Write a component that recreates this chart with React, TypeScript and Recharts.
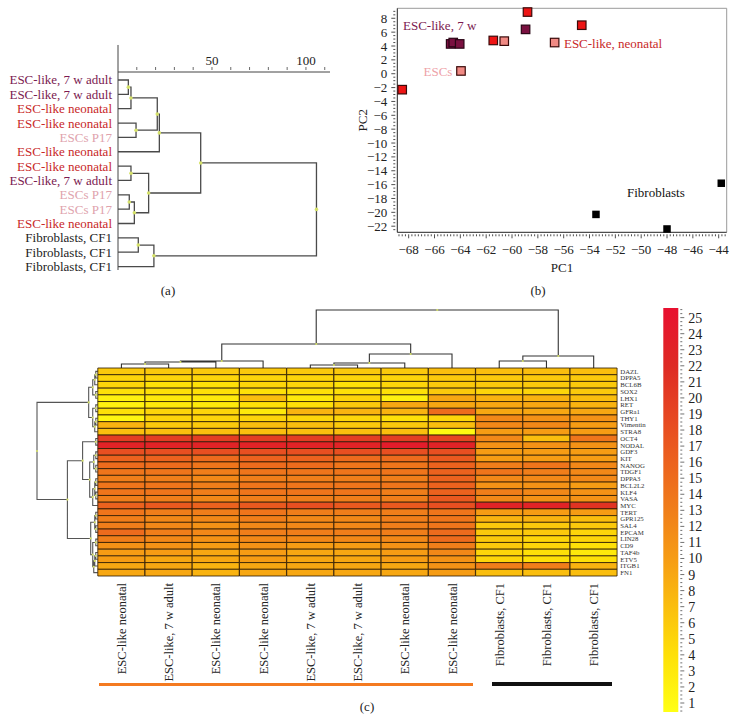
import React from 'react';
import {
  LineChart, Line, XAxis, YAxis, ScatterChart, Scatter, BarChart, Bar, Cell, ReferenceLine,
} from 'recharts';

const FONT = "'Liberation Serif', 'DejaVu Serif', serif";

// ---------- (a) sample clustering ----------
const leafNames = [
  'ESC-like, 7 w adult', 'ESC-like, 7 w adult', 'ESC-like neonatal', 'ESC-like neonatal', 'ESCs P17',
  'ESC-like neonatal', 'ESC-like neonatal', 'ESC-like, 7 w adult', 'ESCs P17', 'ESCs P17',
  'ESC-like neonatal', 'Fibroblasts, CF1', 'Fibroblasts, CF1', 'Fibroblasts, CF1',
];
// [left, right, height]; merged nodes get the next free index after the leaves
const sampleMerges = [
  [0, 1, 5.5], [14, 2, 6.9], [3, 4, 9.6], [15, 16, 20.9], [17, 5, 22], [6, 7, 6.9], [8, 9, 6],
  [20, 10, 8.7], [19, 21, 16.3], [18, 22, 44], [11, 12, 10.8], [24, 13, 19.1], [23, 25, 105.6],
];
const distTicks = [10, 20, 30, 40, 50, 60, 70, 80, 90, 100, 110];
const distLabels = [50, 100];

// ---------- (b) PCA ----------
const pcaNeonatal = [{ x: -68.5, y: -2.3 }, { x: -61.45, y: 4.8 }, { x: -58.8, y: 8.9 }, { x: -54.6, y: 7.0 }];
const pcaEscs = [{ x: -63.95, y: 0.4 }, { x: -60.6, y: 4.7 }, { x: -56.7, y: 4.5 }];
const pcaAdult = [{ x: -64.75, y: 4.3 }, { x: -64.55, y: 4.5 }, { x: -64.05, y: 4.3 }, { x: -58.95, y: 6.4 }];
const pcaFibro = [{ x: -53.5, y: -20.3 }, { x: -48.0, y: -22.4 }, { x: -43.8, y: -15.8 }];
const pcaLabels = [
  { x: -68.44, y: 6.9, text: 'ESC-like, 7 w', color: '#7b1a50' },
  { x: -55.98, y: 4.43, text: 'ESC-like, neonatal', color: '#c82828' },
  { x: -66.85, y: 0.39, text: 'ESCs', color: '#eea2a8' },
  { x: -51.1, y: -17.1, text: 'Fibroblasts', color: '#111' },
];
const pcaXLabels = [-68, -66, -64, -62, -60, -58, -56, -54, -52, -50, -48, -46, -44];
const pcaYLabels = [8, 6, 4, 2, 0, -2, -4, -6, -8, -10, -12, -14, -16, -18, -20, -22];

// ---------- (c) heatmap ----------
const genes = [
  'DAZL', 'DPPA5', 'BCL6B', 'SOX2', 'LHX1', 'RET', 'GFRa1', 'THY1', 'Vimentin', 'STRA8', 'OCT4',
  'NODAL', 'GDF3', 'KIT', 'NANOG', 'TDGF1', 'DPPA3', 'BCL2L2', 'KLF4', 'VASA', 'MYC', 'TERT',
  'GPR125', 'SAL4', 'EPCAM', 'LIN28', 'CD9', 'TAF4b', 'ETV5', 'ITGB1', 'FN1',
];
const sampleNames = [
  'ESC-like neonatal', 'ESC-like, 7 w adult', 'ESC-like neonatal', 'ESC-like neonatal',
  'ESC-like, 7 w adult', 'ESC-like, 7 w adult', 'ESC-like neonatal', 'ESC-like neonatal',
  'Fibroblasts, CF1', 'Fibroblasts, CF1', 'Fibroblasts, CF1',
];
// one row per gene, one value per sample
const heatRows = [
  [6, 6, 6, 6, 6, 6, 6, 7, 7, 7, 7],
  [5, 5, 5, 5, 5, 5, 5, 6, 6, 6, 6],
  [5, 4, 4, 5, 5, 4, 5, 6, 6, 6, 6],
  [4, 4, 4, 4, 4, 4, 4, 6, 5, 5, 6],
  [2, 3, 3, 7, 3, 5, 2, 9, 8, 8, 7],
  [2, 3, 3, 4, 4, 6, 9, 9, 9, 9, 8],
  [4, 5, 5, 3, 8, 8, 8, 15, 9, 9, 9],
  [1.5, 5, 5, 5, 5, 5, 4, 5, 12, 11, 11],
  [8, 6, 6, 7, 7, 6, 6, 7, 12, 12, 10],
  [7, 7, 7, 7, 7, 7, 7, 1, 10, 10, 10],
  [20, 20, 20, 20, 20, 20, 20, 19, 12, 7, 14],
  [23, 23, 23, 23, 23, 23, 24, 23, 11, 11, 11],
  [18, 18, 18, 18, 18, 18, 18, 18, 10, 10, 10],
  [16, 16, 15, 16, 16, 15, 15, 17, 10, 10, 10],
  [15, 15, 14, 15, 15, 14, 14, 16, 13, 14, 12],
  [14, 14, 13, 14, 14, 14, 14, 16, 14, 13, 12],
  [13, 13, 12, 13, 13, 13, 13, 16, 12, 12, 12],
  [14, 14, 13, 14, 14, 14, 14, 16, 11, 11, 10],
  [14, 14, 13, 14, 14, 14, 13, 16, 13, 12, 11],
  [13, 13, 12, 13, 13, 13, 13, 17, 12, 11, 11],
  [16, 17, 16, 17, 18, 17, 17, 18, 23, 23, 21],
  [14, 13, 13, 14, 13, 13, 13, 14, 10, 10, 10],
  [13, 12, 12, 13, 12, 12, 13, 14, 8, 8, 7],
  [13, 12, 11, 12, 12, 12, 13, 14, 6, 6, 6],
  [15, 13, 12, 13, 13, 13, 13, 15, 6, 6, 5],
  [13, 12, 11, 12, 12, 12, 12, 15, 6, 5, 5],
  [11, 11, 10, 11, 10, 10, 11, 13, 6, 5, 4],
  [10, 10, 9, 10, 9, 9, 10, 12, 5, 4, 3],
  [10, 9, 9, 10, 9, 9, 10, 11, 5, 4, 4],
  [9, 9, 8, 9, 9, 9, 9, 11, 13, 13, 8],
  [9, 9, 8, 9, 9, 9, 9, 10, 7, 7, 7],
];
const geneMerges = [
  [0, 1, 2], [31, 2, 3], [3, 4, 2], [32, 33, 5], [5, 6, 2], [7, 8, 2], [36, 9, 3], [35, 37, 5], [34, 38, 9],
  [10, 11, 2], [12, 13, 2], [14, 15, 2], [41, 42, 4], [16, 17, 2], [18, 19, 2], [44, 45, 3], [46, 20, 5],
  [43, 47, 8], [40, 48, 15], [21, 22, 2], [23, 24, 2], [50, 51, 3], [25, 26, 2], [27, 28, 2], [54, 29, 3],
  [55, 30, 4], [53, 56, 5], [52, 57, 7], [49, 58, 30], [39, 59, 60],
];
const sampleColMerges = [
  [0, 1, 4], [11, 2, 6], [12, 3, 7], [4, 5, 3], [14, 6, 5], [15, 7, 14], [13, 16, 24],
  [8, 9, 7], [18, 10, 12], [17, 19, 58],
];
const colorbarTicks = [1, 2, 3, 4, 5, 6, 7, 8, 9, 10, 11, 12, 13, 14, 15, 16, 17, 18, 19, 20, 21, 22, 23, 24, 25];
const groupBars = [
  { from: 0, to: 7, color: '#f47a20', inL: 1, inR: 3, h: 3 },
  { from: 8, to: 10, color: '#111', inL: 16, inR: 5, h: 4 },
];

const leafColor = (name: string) =>
  name.startsWith('ESC-like, 7') ? '#7b1a50' : name.startsWith('ESC-like') ? '#c82828'
    : name.startsWith('ESCs') ? '#e0a3ad' : '#222';

const colorStops: [number, number[]][] = [
  [0.44, [255, 255, 20]], [4, [254, 224, 8]], [7, [250, 190, 14]], [10, [246, 156, 20]],
  [13, [240, 126, 26]], [16, [236, 98, 30]], [19, [230, 70, 34]], [22, [222, 42, 36]], [25.6, [232, 16, 48]],
];
const rgb = (c: number[]) => `rgb(${c[0]},${c[1]},${c[2]})`;
function heatColor(v: number) {
  for (let i = 1; i < colorStops.length; i++) {
    const [v1, c1] = colorStops[i];
    const [v0, c0] = colorStops[i - 1];
    if (v <= v1 || i === colorStops.length - 1) {
      const t = Math.max(0, Math.min(1, (v - v0) / (v1 - v0)));
      return rgb(c0.map((a, k) => Math.round(a + (c1[k] - a) * t)));
    }
  }
  return '#fff';
}

function buildDendro(n: number, merges: number[][]) {
  const pos: number[] = [];
  const hgt: number[] = [];
  for (let i = 0; i < n; i++) { pos.push(i); hgt.push(0); }
  const pts: any[] = [];
  merges.forEach(([a, b, h]) => {
    const mid = (pos[a] + pos[b]) / 2;
    pts.push({ p: pos[a], h: hgt[a] }, { p: pos[a], h }, { p: mid, h, node: true },
      { p: pos[b], h }, { p: pos[b], h: hgt[b] }, { p: null, h: null });
    pos.push(mid); hgt.push(h);
  });
  return pts;
}

const stepTicks = (lo: number, hi: number, step: number) => {
  const out: number[] = [];
  for (let v = lo; v <= hi + 1e-9; v += step) out.push(Math.round(v * 100) / 100);
  return out;
};
const minus = (v: number) => (v < 0 ? `\u2212${-v}` : `${v}`);

const nodeDot = (r: number) => (props: any) =>
  props.payload && props.payload.node && props.cx != null
    ? <circle key={`n${props.index}`} cx={props.cx} cy={props.cy} r={r} fill="#d6e26a" />
    : <g key={`n${props.index}`} />;

// ---------- ticks ----------
const LeafTick = (props: any) => {
  const name = leafNames[props.payload.value];
  return (
    <text x={props.x} y={props.y} dy={4.5} textAnchor="end" fontSize={13} fill={leafColor(name)}>{name}</text>
  );
};
const DistTick = (props: any) => {
  const { x, y, payload } = props;
  return (
    <g>
      <line x1={x} x2={x} y1={y} y2={y - 3} stroke="#444" strokeWidth={0.8} />
      {distLabels.includes(payload.value) && (
        <text x={x} y={y - 5} textAnchor="middle" fontSize={13} fill="#222">{payload.value}</text>
      )}
    </g>
  );
};
const PcXTick = (props: any) => {
  const { x, y, payload } = props;
  const major = pcaXLabels.includes(payload.value);
  return (
    <g>
      <line x1={x} x2={x} y1={y} y2={y + (major ? 4 : 2)} stroke="#222" strokeWidth={0.8} />
      {major && <text x={x} y={y + 20} textAnchor="middle" fontSize={13} fill="#222">{minus(payload.value)}</text>}
    </g>
  );
};
const PcYTick = (props: any) => {
  const { x, y, payload } = props;
  const major = pcaYLabels.includes(payload.value);
  return (
    <g>
      <line x1={x} x2={x - (major ? 4 : 2)} y1={y} y2={y} stroke="#222" strokeWidth={0.8} />
      {major && <text x={x - 8} y={y} dy={4.5} textAnchor="end" fontSize={13} fill="#222">{minus(payload.value)}</text>}
    </g>
  );
};
const ColTick = (props: any) => {
  const { x, y, payload } = props;
  return (
    <text x={x} y={y} dy={4.5} transform={`rotate(-90 ${x} ${y})`} textAnchor="end" fontSize={12.5} fill="#222">
      {sampleNames[payload.value]}
    </text>
  );
};
const GeneTick = (props: any) => {
  const { x, y, payload } = props;
  return (
    <text x={x} y={y} dy={2.4} fontSize={6.8} fill="#333">{genes[Math.floor(payload.value)]}</text>
  );
};
const CbTick = (props: any) => {
  const { x, y, payload } = props;
  const major = colorbarTicks.includes(payload.value);
  return (
    <g>
      <line x1={x} x2={x + (major ? 4 : 2)} y1={y} y2={y} stroke="#333" strokeWidth={0.7} />
      {major && <text x={x + 8} y={y} dy={5} fontSize={14} fill="#222">{payload.value}</text>}
    </g>
  );
};

const square = (fill: string, stroke: string, s: number) => (p: any) => (
  <rect x={p.cx - s / 2} y={p.cy - s / 2} width={s} height={s} fill={fill} stroke={stroke} strokeWidth={stroke === 'none' ? 0 : 1.2} />
);
const textShape = (p: any) => (
  <text x={p.cx} y={p.cy} dy={4.5} fontSize={13} fill={p.payload.color}>{p.payload.text}</text>
);

// ---------- layout (c) ----------
const HM_LEFT = 97.8;
const HM_RIGHT = 617.3;
const HM_TOP = 368;
const HM_BOTTOM = 576;
const colW = (HM_RIGHT - HM_LEFT) / sampleNames.length;

const sampleTree = buildDendro(leafNames.length, sampleMerges);
const geneTree = buildDendro(genes.length, geneMerges);
const colTree = buildDendro(sampleNames.length, sampleColMerges);
const heatData = sampleNames.map((_, c) => {
  const row: Record<string, number> = { idx: c };
  genes.forEach((g) => { row[g] = 1; });
  return row;
});

function PanelA() {
  return (
    <LineChart width={340} height={280} data={sampleTree} margin={{ top: 40, right: 10, bottom: 10, left: 0 }}>
      <XAxis type="number" dataKey="h" orientation="top" domain={[0, 112.8]} ticks={distTicks} interval={0}
        tick={DistTick} tickSize={0} tickLine={false} height={32} axisLine={{ stroke: '#444' }} />
      <YAxis type="number" domain={[-0.557, 13.24]} reversed ticks={leafNames.map((_, i) => i)} interval={0}
        tick={LeafTick} tickSize={0} tickMargin={6} tickLine={false} axisLine={false} width={118} />
      <ReferenceLine segment={[{ x: 0, y: -2.44 }, { x: 0, y: 13.24 }]} stroke="#444" ifOverflow="visible" />
      <Line dataKey="p" stroke="#4a4a4a" strokeWidth={1.3} dot={nodeDot(1.8)} activeDot={false}
        isAnimationActive={false} connectNulls={false} />
    </LineChart>
  );
}

function PanelB() {
  return (
    <ScatterChart width={394} height={280} margin={{ top: 8.3, right: 7.3, bottom: 17.7, left: 0 }}>
      <XAxis type="number" dataKey="x" domain={[-68.88, -43.38]} ticks={stepTicks(-68.75, -43.5, 0.25)} interval={0}
        tick={PcXTick} tickSize={0} tickLine={false} height={30} axisLine={{ stroke: '#222' }}
        label={{ value: 'PC1', position: 'bottom', offset: 0, fontSize: 13, fill: '#222' }} />
      <YAxis type="number" dataKey="y" domain={[-22.88, 9.44]} ticks={stepTicks(-22.5, 9, 0.5)} interval={0}
        tick={PcYTick} tickSize={0} tickLine={false} width={57.3} axisLine={{ stroke: '#222' }}
        label={{ value: 'PC2', angle: -90, position: 'insideLeft', offset: 22, fontSize: 13, fill: '#222', style: { textAnchor: 'middle' } }} />
      <ReferenceLine y={9.44} stroke="#9a9a9a" />
      <ReferenceLine x={-43.38} stroke="#9a9a9a" />
      <Scatter data={pcaFibro} shape={square('#000', 'none', 7.5)} isAnimationActive={false} />
      <Scatter data={pcaEscs} shape={square('#f08a84', '#3a0a0a', 8.5)} isAnimationActive={false} />
      <Scatter data={pcaNeonatal} shape={square('#ee1414', '#3a0a0a', 8.5)} isAnimationActive={false} />
      <Scatter data={pcaAdult} shape={square('#7a1040', '#2a0515', 8.5)} isAnimationActive={false} />
      <Scatter data={pcaLabels} shape={textShape} isAnimationActive={false} />
    </ScatterChart>
  );
}

function GeneDendro() {
  return (
    <LineChart width={100} height={230} data={geneTree} margin={{ top: HM_TOP - 360, right: 100 - HM_LEFT, bottom: 590 - HM_BOTTOM, left: 37 }}>
      <XAxis type="number" dataKey="h" domain={[0, 60]} reversed hide />
      <YAxis type="number" domain={[-0.5, genes.length - 0.5]} reversed hide />
      <Line dataKey="p" stroke="#555" strokeWidth={1.1} dot={nodeDot(1.1)} activeDot={false}
        isAnimationActive={false} connectNulls={false} />
    </LineChart>
  );
}

function ColDendro() {
  return (
    <LineChart width={560} height={80} data={colTree} margin={{ top: 10, right: 650 - HM_RIGHT, bottom: 380 - HM_TOP, left: HM_LEFT - 90 }}>
      <XAxis type="number" dataKey="p" domain={[-0.5, sampleNames.length - 0.5]} hide />
      <YAxis type="number" domain={[0, 58]} hide />
      <Line dataKey="h" stroke="#333" strokeWidth={1.1} dot={nodeDot(1.1)} activeDot={false}
        isAnimationActive={false} connectNulls={false} />
    </LineChart>
  );
}

function Heatmap() {
  return (
    <BarChart width={560} height={340} data={heatData} barCategoryGap={0} barGap={0}
      margin={{ top: HM_TOP - 360, right: 0, bottom: 0, left: HM_LEFT - 90 }}>
      <XAxis dataKey="idx" interval={0} tick={ColTick} tickSize={0} tickMargin={7} tickLine={false} axisLine={false}
        height={340 - (HM_BOTTOM - 360)} />
      <YAxis type="number" orientation="right" domain={[0, genes.length]} reversed ticks={genes.map((_, i) => i + 0.5)}
        interval={0} tick={GeneTick} tickSize={0} tickMargin={3} tickLine={false} axisLine={false} width={650 - HM_RIGHT} />
      {genes.map((g, r) => (
        <Bar key={g} dataKey={g} stackId="hm" isAnimationActive={false} stroke="#2a1800" strokeWidth={0.8}>
          {sampleNames.map((_, c) => <Cell key={c} fill={heatColor(heatRows[r][c])} />)}
        </Bar>
      ))}
    </BarChart>
  );
}

function Colorbar() {
  const lo = colorStops[0][0];
  const hi = colorStops[colorStops.length - 1][0];
  // gradient runs top (high) to bottom (low); stops must be in increasing offset order
  const stops = [...colorStops].reverse();
  return (
    <BarChart width={94} height={420} data={[{ k: 'scale', v: [lo, hi] }]} barCategoryGap={0}
      margin={{ top: 8, right: 0, bottom: 8, left: 23.3 }}>
      <defs>
        <linearGradient id="cbar" x1="0" y1="0" x2="0" y2="1">
          {stops.map(([v, c]) => (
            <stop key={v} offset={(hi - v) / (hi - lo)} stopColor={rgb(c)} />
          ))}
        </linearGradient>
      </defs>
      <XAxis dataKey="k" hide />
      <YAxis type="number" orientation="right" domain={[lo, hi]} ticks={stepTicks(0.5, 25.5, 0.25)} interval={0}
        tick={CbTick} tickSize={0} tickLine={false} axisLine={false} width={55.7} />
      <Bar dataKey="v" fill="url(#cbar)" isAnimationActive={false} />
    </BarChart>
  );
}

const abs = (left: number, top: number): React.CSSProperties => ({ position: 'absolute', left, top });
const caption = (x: number, y: number): React.CSSProperties => ({
  position: 'absolute', left: x, top: y, transform: 'translate(-50%, -50%)', fontSize: 13, lineHeight: '14px',
});

export default function App() {
  return (
    <div style={{ position: 'absolute', left: 0, top: 0, width: 734, height: 720, background: '#fff', fontFamily: FONT, color: '#222', overflow: 'hidden' }}>
      <div style={abs(0, 0)}><PanelA /></div>
      <div style={abs(340, 0)}><PanelB /></div>
      <div style={abs(0, 360)}><GeneDendro /></div>
      <div style={abs(90, 300)}><ColDendro /></div>
      <div style={abs(90, 360)}><Heatmap /></div>
      <div style={abs(640, 300)}><Colorbar /></div>
      {groupBars.map((g) => (
        <div key={g.color} style={{
          position: 'absolute', top: 684 - g.h / 2, height: g.h, background: g.color,
          left: HM_LEFT + g.from * colW + g.inL, width: (g.to - g.from + 1) * colW - g.inL - g.inR,
        }} />
      ))}
      <div style={caption(168, 291)}>(a)</div>
      <div style={caption(538, 291)}>(b)</div>
      <div style={caption(367, 707)}>(c)</div>
    </div>
  );
}
